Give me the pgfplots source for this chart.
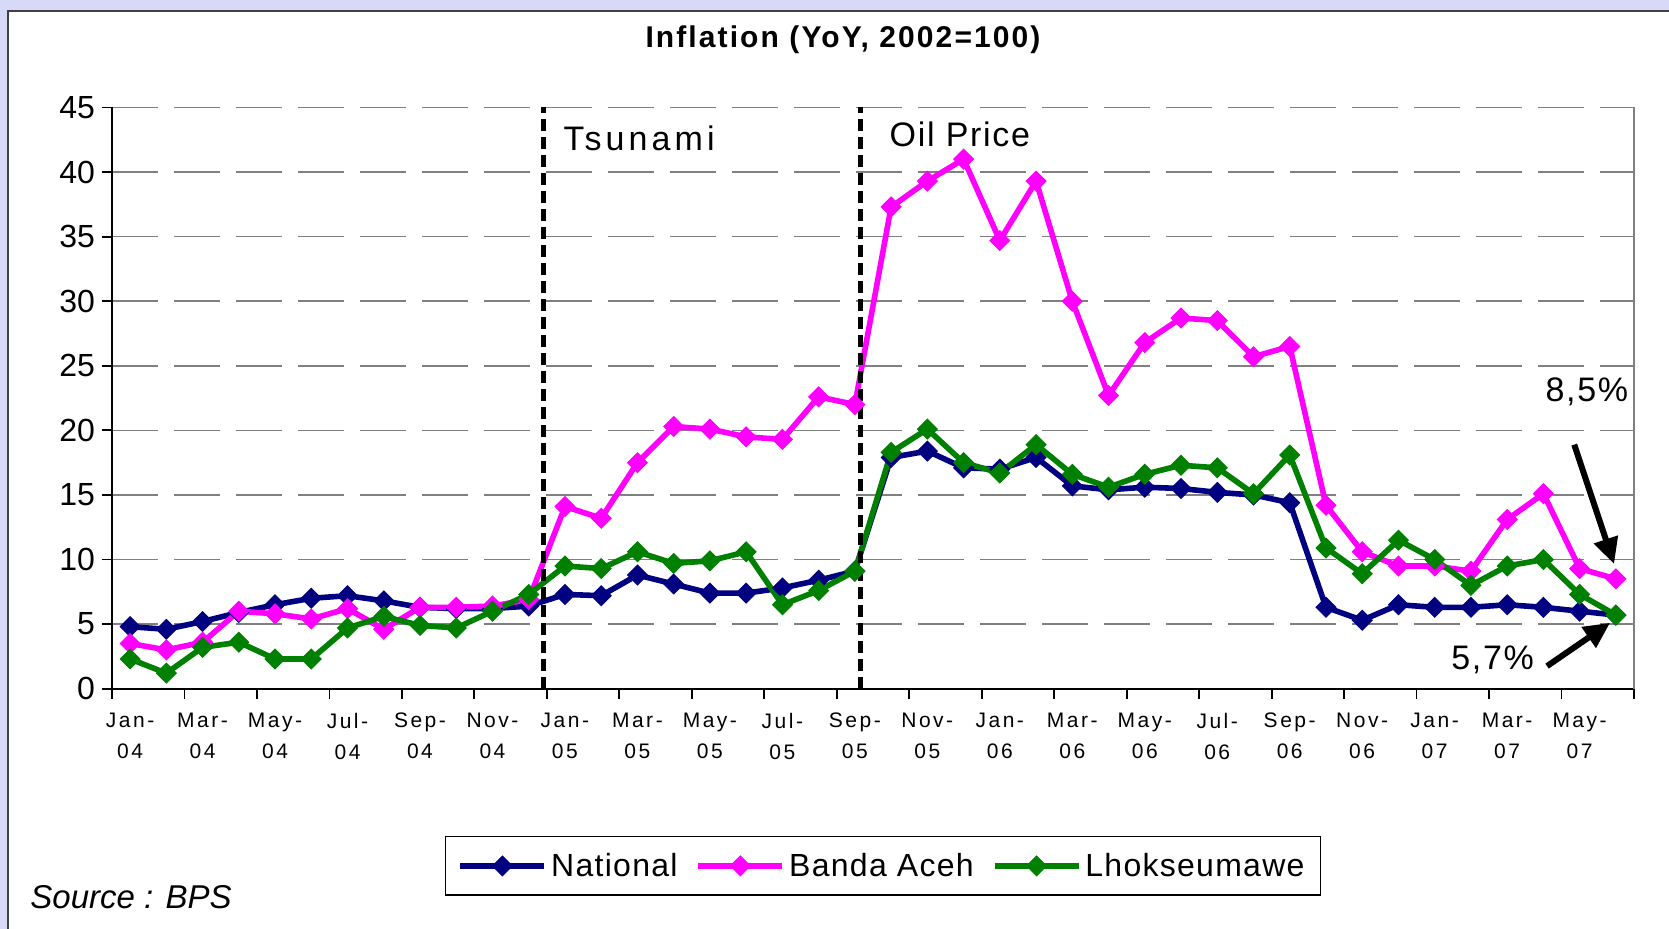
\documentclass[border=0pt]{standalone}
\usepackage{pgfplots}
\usepackage{pgfplotstable}
\pgfplotsset{compat=1.18}
\usetikzlibrary{arrows.meta}
\usepackage{fontspec}
\setmainfont{Liberation Sans}
\definecolor{navyc}{RGB}{0,0,128}
\definecolor{magc}{RGB}{255,0,255}
\definecolor{greenc}{RGB}{0,128,0}
\definecolor{lav}{RGB}{216,216,248}
\pgfplotstableread{
idx nat banda lhok
0 4.8 3.5 2.3
1 4.6 3.0 1.2
2 5.2 3.6 3.2
3 5.9 6.0 3.6
4 6.5 5.8 2.3
5 7.0 5.4 2.3
6 7.2 6.2 4.7
7 6.8 4.6 5.6
8 6.3 6.3 4.9
9 6.2 6.3 4.7
10 6.2 6.4 6.0
11 6.4 6.9 7.3
12 7.3 14.1 9.5
13 7.2 13.2 9.3
14 8.8 17.5 10.6
15 8.1 20.3 9.7
16 7.4 20.1 9.9
17 7.4 19.5 10.6
18 7.8 19.3 6.5
19 8.4 22.6 7.6
20 9.1 22.0 9.1
21 17.9 37.3 18.3
22 18.4 39.3 20.1
23 17.1 41.0 17.5
24 17.0 34.7 16.7
25 17.9 39.3 18.9
26 15.7 30.0 16.6
27 15.4 22.7 15.6
28 15.6 26.8 16.6
29 15.5 28.7 17.3
30 15.2 28.5 17.1
31 15.0 25.7 15.1
32 14.4 26.5 18.1
33 6.3 14.2 10.9
34 5.3 10.6 8.9
35 6.5 9.5 11.5
36 6.3 9.5 10.0
37 6.3 9.1 8.0
38 6.5 13.1 9.5
39 6.3 15.1 10.0
40 6.0 9.3 7.3
41 5.7 8.5 5.7
}\datatable
\begin{document}
\begin{tikzpicture}
\useasboundingbox (-56pt,-120.15pt) rectangle (778.5pt,344.35pt);
\fill[lav] (-56pt,-120.15pt) rectangle (778.5pt,344.35pt);
\fill[white] (-52pt,-120.15pt) rectangle (778.5pt,338.85pt);
\draw[black!75, line width=1pt] (-52pt,-120.15pt) -- (-52pt,338.85pt) -- (778.5pt,338.85pt);
\node[font=\fontsize{15}{17}\selectfont\bfseries\addfontfeatures{LetterSpace=7}] at (365.5pt,324.35pt) {Inflation (YoY, 2002=100)};
\begin{axis}[
 at={(0,0)}, anchor=south west,
 scale only axis, width=761pt, height=290.6pt,
 xmin=-0.5, xmax=41.5, ymin=0, ymax=45,
 clip=false,
 axis x line*=bottom, axis y line*=left,
 axis line style={-, black, line width=0.9pt},
 every outer x axis line/.append style={-},
 every outer y axis line/.append style={-},
 tick align=outside,
 major tick length=5pt,
 tick style={black, line width=0.9pt},
 ytick={0,5,...,45},
 /pgf/number format/assume math mode=true,
 yticklabel style={font=\fontsize{16}{18}\selectfont},
 xtick={-0.5,1.5,...,41.5},
 xticklabels={{Jan-\\04},{Mar-\\04},{May-\\04},{Jul-\\04},{Sep-\\04},{Nov-\\04},
   {Jan-\\05},{Mar-\\05},{May-\\05},{Jul-\\05},{Sep-\\05},{Nov-\\05},
   {Jan-\\06},{Mar-\\06},{May-\\06},{Jul-\\06},{Sep-\\06},{Nov-\\06},
   {Jan-\\07},{Mar-\\07},{May-\\07},{}},
 xticklabel style={align=center, font=\fontsize{10.5}{15.5}\selectfont\addfontfeatures{LetterSpace=12}, xshift=9.035pt, yshift=-3.7pt},
 ymajorgrids,
 major grid style={gray, line width=0.8pt, dash pattern=on 23pt off 8pt},
 legend columns=3,
 legend style={at={(0.5066,-0.305)}, anchor=center, draw=black, line width=0.6pt,
   font=\fontsize{16}{18}\selectfont\addfontfeatures{LetterSpace=4}, inner xsep=6pt, inner ysep=6pt,
   /tikz/every even column/.append style={column sep=7pt}},
 legend image code/.code={\draw[mark repeat=2,mark phase=2] plot coordinates {(0pt,0pt)(21pt,0pt)(42pt,0pt)};},
]
\addplot[navyc, line width=2.8pt, mark=square*, mark size=3.5pt, mark options={rotate=45, line width=0.5pt, solid}] table[x=idx,y=nat] {\datatable};
\addlegendentry{National}
\addplot[magc, line width=2.8pt, mark=square*, mark size=3.5pt, mark options={rotate=45, line width=0.5pt, solid}] table[x=idx,y=banda] {\datatable};
\addlegendentry{Banda Aceh}
\addplot[greenc, line width=2.8pt, mark=square*, mark size=3.5pt, mark options={rotate=45, line width=0.5pt, solid}] table[x=idx,y=lhok] {\datatable};
\addlegendentry{Lhokseumawe}
\draw[gray, line width=0.8pt] (rel axis cs:1,0) -- (rel axis cs:1,1);
\draw[black, line width=2.6pt, dash pattern=on 6pt off 3pt] (axis cs:11.4,0) -- (axis cs:11.4,45);
\draw[black, line width=2.6pt, dash pattern=on 6pt off 3pt] (axis cs:20.15,0) -- (axis cs:20.15,45);
\node[anchor=west, inner sep=0pt, font=\fontsize{17}{20}\selectfont\addfontfeatures{LetterSpace=12}] at (axis cs:11.95,42.6) {Tsunami};
\node[anchor=west, inner sep=0pt, font=\fontsize{17}{20}\selectfont\addfontfeatures{LetterSpace=5}] at (axis cs:20.95,42.9) {Oil Price};
\node[font=\fontsize{17}{20}\selectfont\addfontfeatures{LetterSpace=5}] at (axis cs:40.2,23.0) {8,5\%};
\draw[black, line width=3pt, -{Triangle[length=13pt,width=12pt]}] (axis cs:39.85,18.9) -- (axis cs:40.95,9.65);
\node[font=\fontsize{17}{20}\selectfont\addfontfeatures{LetterSpace=5}] at (axis cs:37.6,2.2) {5,7\%};
\draw[black, line width=3pt, -{Triangle[length=13pt,width=12pt]}] (axis cs:39.1,1.75) -- (axis cs:40.84,5.1);
\end{axis}
\node[anchor=west, inner sep=0pt, font=\itshape\fontsize{16.5}{18}\selectfont] at (-41pt,-104.15pt) {Source : BPS};
\end{tikzpicture}
\end{document}
